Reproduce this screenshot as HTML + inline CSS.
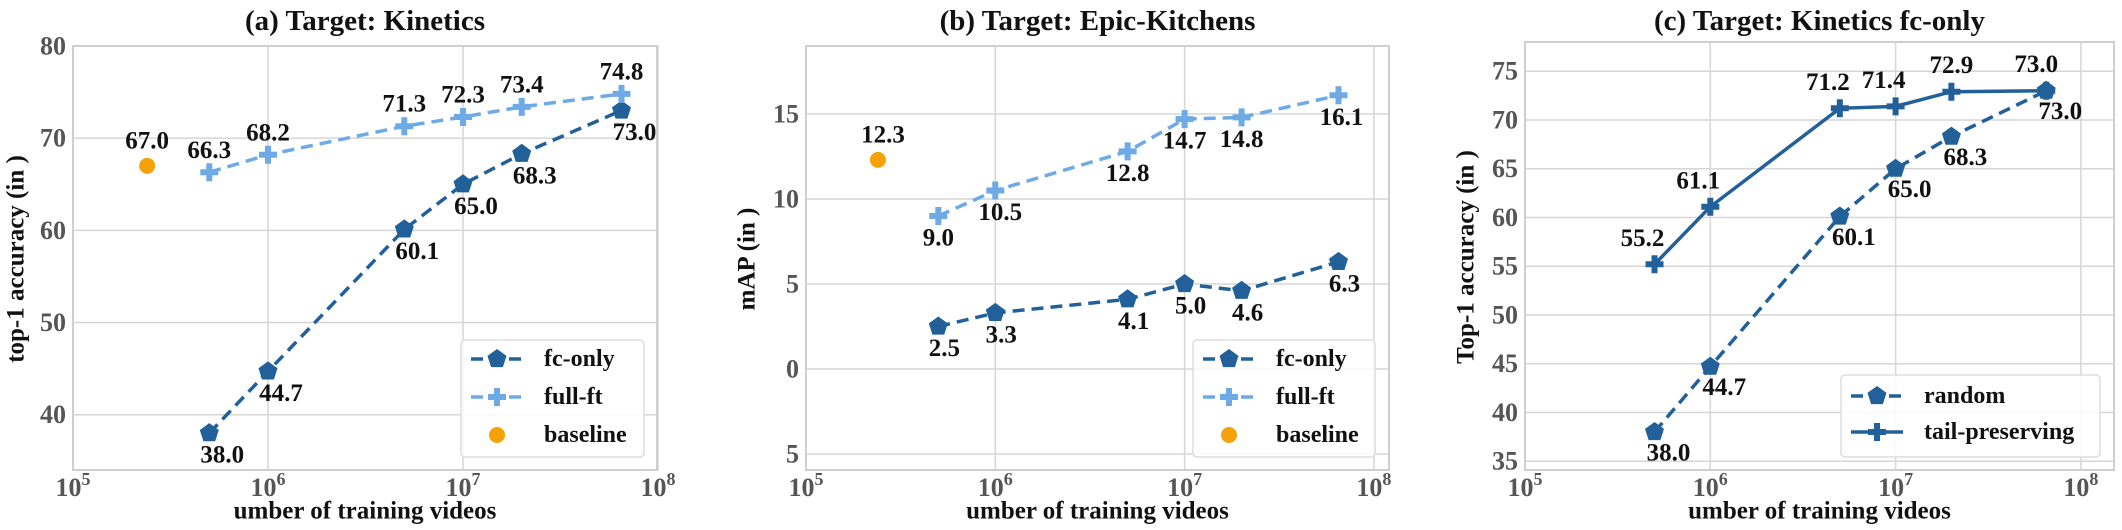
<!DOCTYPE html>
<html><head><meta charset="utf-8">
<style>
html,body{margin:0;padding:0;background:#fff;}
svg text{font-family:"Liberation Serif",serif;font-weight:bold;}
</style></head>
<body>
<svg id="c" width="2122" height="525" viewBox="0 0 2122 525" xmlns="http://www.w3.org/2000/svg"></svg>
<script>
// ---- data ----
const xA = [5e5, 1e6, 5e6, 1e7, 2e7, 6.5e7];
const aFc = [38.0, 44.7, 60.1, 65.0, 68.3, 73.0];
const aFull = [66.3, 68.2, 71.3, 72.3, 73.4, 74.8];
const aBaseX = [2.4e5];
const aBase = [67.0];
const bFc = [2.5, 3.3, 4.1, 5.0, 4.6, 6.3];
const bFull = [9.0, 10.5, 12.8, 14.7, 14.8, 16.1];
const bBase = [12.3];
const cRandom = [38.0, 44.7, 60.1, 65.0, 68.3, 73.0];
const cTail = [55.2, 61.1, 71.2, 71.4, 72.9, 73.0];
const aTicks = [40, 50, 60, 70, 80];
const bTicks = [-5, 0, 5, 10, 15];
const bTickLabels = ["5", "0", "5", "10", "15"];
const cTicks = [35, 40, 45, 50, 55, 60, 65, 70, 75];
const xDecades = [5, 6, 7, 8];

const DARK = "#22609a", LIGHT = "#6eaae6", ORANGE = "#f5a20a";
const FT = 26, FL = 25, FA = 25, FG = 24;
const svg = document.getElementById('c');
const NS = "http://www.w3.org/2000/svg";
function mk(tag, attrs, parent) {
  const e = document.createElementNS(NS, tag);
  for (const k in attrs) e.setAttribute(k, attrs[k]);
  (parent || svg).appendChild(e);
  return e;
}
function txt(s, x, y, size, fill, anchor, parent) {
  const t = mk('text', {x: x, y: y, 'font-size': size, fill: fill, 'text-anchor': anchor || 'middle', 'dominant-baseline': 'central'}, parent);
  t.textContent = s;
  return t;
}
function pentagon(g, x, y, r, col) {
  let p = [];
  for (let i = 0; i < 5; i++) { const a = -Math.PI / 2 + i * 2 * Math.PI / 5; p.push((x + r * Math.cos(a)).toFixed(1) + ',' + (y + r * Math.sin(a)).toFixed(1)); }
  return mk('polygon', {points: p.join(' '), fill: col}, g);
}
function plus(g, x, y, r, w, col) {
  return mk('path', {d: `M${x - r},${y}H${x + r}M${x},${y - r}V${y + r}`, stroke: col, 'stroke-width': w, fill: 'none'}, g);
}

function panel(cfg) {
  const g = mk('g', {});
  
  
  const L = cfg.L, R = cfg.R, T = cfg.T, B = cfg.B;
  const xs = v => L + (Math.log10(v) - 5) * cfg.dec;
  const ys = v => B - (v - cfg.ymin) / (cfg.ymax - cfg.ymin) * (B - T);
  cfg.ticks.forEach((v, i) => {
    const gl = mk('line', {x1: L, x2: R, y1: ys(v), y2: ys(v), stroke: '#d6d6d6', 'stroke-width': 1.5}, g);
    
    
    const tl = txt(cfg.tickLabels ? cfg.tickLabels[i] : String(v), L - 7, ys(v), FT, '#555', 'end', g);
    
    
  });
  xDecades.forEach(d => {
    const x = L + (d - 5) * cfg.dec;
    const gl = mk('line', {x1: x, x2: x, y1: T, y2: B, stroke: '#d6d6d6', 'stroke-width': 1.5}, g);
    
    
    const t = mk('text', {x: x, y: 496, 'font-size': FT, fill: '#555', 'text-anchor': 'middle'}, g);
    
    
    const s1 = document.createElementNS(NS, 'tspan'); s1.textContent = '10'; t.appendChild(s1);
    const s2 = document.createElementNS(NS, 'tspan'); s2.setAttribute('dy', '-11'); s2.setAttribute('font-size', '18'); s2.textContent = String(d); t.appendChild(s2);
  });
  const fr = mk('rect', {x: L, y: T, width: R - L, height: B - T, fill: 'none', stroke: '#cfcfcf', 'stroke-width': 2}, g);
  
  
  const tt = txt(cfg.title, (L + R) / 2, 21, 29, '#111', 'middle', g);
  
  
  const xl = txt('umber of training videos', (L + R) / 2, 511, FA, '#111', 'middle', g);
  
  
  const yl = mk('text', {x: 0, y: 0, 'font-size': FA, fill: '#111', 'text-anchor': 'middle', 'dominant-baseline': 'central', transform: `translate(${cfg.ylx},${cfg.yly}) rotate(-90)`}, g);
  yl.textContent = cfg.ylabel;
  
  
  cfg.series.forEach(s => {
    const sg = mk('g', {}, g);
    
    
    const pts = s.x.map((xv, i) => [xs(xv), ys(s.y[i])]);
    if (s.line) {
      const pl = mk('polyline', {points: pts.map(p => p.join(',')).join(' '), fill: 'none', stroke: s.col, 'stroke-width': 3.5, 'stroke-dasharray': s.dash || 'none'}, sg);
      
      
    }
    pts.forEach((p, i) => {
      let m;
      if (s.marker === 'pent') m = pentagon(sg, p[0], p[1], 10, s.col);
      else if (s.marker === 'plus') m = plus(sg, p[0], p[1], 9, 6, s.col);
      else m = mk('circle', {cx: p[0], cy: p[1], r: 8, fill: s.col}, sg);
      
      
      const dx = (s.ldx && s.ldx[i] !== undefined) ? s.ldx[i] : s.dx;
      const dy = (s.ldy && s.ldy[i] !== undefined) ? s.ldy[i] : s.dy;
      const lb = txt(s.y[i].toFixed(1), p[0] + dx, p[1] + dy, FL, '#111', 'middle', sg);
      
      
    });
  });
  const lg = mk('g', {}, g);
  
  
  mk('rect', {x: cfg.lx, y: cfg.ly, width: cfg.lw, height: cfg.lh, rx: 4, fill: '#fff', 'fill-opacity': 0.85, stroke: '#ddd', 'stroke-width': 1.5}, lg);
  cfg.legend.forEach((e, i) => {
    const y = cfg.ly + cfg.lfirst + i * cfg.lstep;
    const x0 = cfg.lx + 10, x1 = cfg.lx + 62;
    const eg = mk('g', {}, lg);
    
    
    if (e.dash !== undefined) mk('line', {x1: x0, x2: x1, y1: y, y2: y, stroke: e.col, 'stroke-width': 3.5, 'stroke-dasharray': e.dash || 'none'}, eg);
    const cx = (x0 + x1) / 2;
    if (e.marker === 'pent') pentagon(eg, cx, y, 10, e.col);
    else if (e.marker === 'plus') plus(eg, cx, y, 9, 6, e.col);
    else mk('circle', {cx: cx, cy: y, r: 8, fill: e.col}, eg);
    txt(e.label, cfg.lx + 83, y, FG, '#111', 'start', eg);
  });
}

const D = '12,7';
panel({name: 'panel-a-kinetics', title: '(a) Target: Kinetics', L: 73, R: 657, T: 46, B: 470, dec: 195, ymin: 34, ymax: 80,
  ticks: aTicks, ylabel: 'top-1 accuracy (in       )', ylx: 16, yly: 259,
  series: [
    {name: 'fc-only-series', x: xA, y: aFc, col: DARK, marker: 'pent', line: true, dash: D, dx: 13, dy: 22, ldx: [, , , , , 13]},
    {name: 'full-ft-series', x: xA, y: aFull, col: LIGHT, marker: 'plus', line: true, dash: D, dx: 0, dy: -22},
    {name: 'baseline-point', x: aBaseX, y: aBase, col: ORANGE, marker: 'dot', line: false, dx: 0, dy: -25}],
  legend: [{label: 'fc-only', col: DARK, marker: 'pent', dash: D}, {label: 'full-ft', col: LIGHT, marker: 'plus', dash: D}, {label: 'baseline', col: ORANGE, marker: 'dot'}],
  lx: 461, ly: 340, lw: 183, lh: 117, lfirst: 19, lstep: 38});

panel({name: 'panel-b-epic-kitchens', title: '(b) Target: Epic-Kitchens', L: 806, R: 1389, T: 46, B: 470, dec: 189.3, ymin: -5.94, ymax: 19,
  ticks: bTicks, tickLabels: bTickLabels, ylabel: 'mAP (in       )', ylx: 747, yly: 259,
  series: [
    {name: 'fc-only-series', x: xA, y: bFc, col: DARK, marker: 'pent', line: true, dash: D, dx: 6, dy: 22},
    {name: 'full-ft-series', x: xA, y: bFull, col: LIGHT, marker: 'plus', line: true, dash: D, dx: 0, dy: 22, ldx: [, 5, , , , 3]},
    {name: 'baseline-point', x: aBaseX, y: bBase, col: ORANGE, marker: 'dot', line: false, dx: 5, dy: -25}],
  legend: [{label: 'fc-only', col: DARK, marker: 'pent', dash: D}, {label: 'full-ft', col: LIGHT, marker: 'plus', dash: D}, {label: 'baseline', col: ORANGE, marker: 'dot'}],
  lx: 1193, ly: 340, lw: 182, lh: 117, lfirst: 19, lstep: 38});

panel({name: 'panel-c-fc-only', title: '(c) Target: Kinetics  fc-only', L: 1525, R: 2114, T: 42, B: 470, dec: 185.3, ymin: 34.1, ymax: 78,
  ticks: cTicks, ylabel: 'Top-1 accuracy (in       )', ylx: 1466, yly: 257,
  series: [
    {name: 'random-series', x: xA, y: cRandom, col: DARK, marker: 'pent', line: true, dash: D, dx: 14, dy: 21},
    {name: 'tail-preserving-series', x: xA, y: cTail, col: DARK, marker: 'plus', line: true, dash: null, dx: -12, dy: -26, ldx: [-12, -12, -12, -12, 0, -10]},
    ],
  legend: [{label: 'random', col: DARK, marker: 'pent', dash: D}, {label: 'tail-preserving', col: DARK, marker: 'plus', dash: null}],
  lx: 1841, ly: 375, lw: 259, lh: 82, lfirst: 21, lstep: 36});
</script>
</body></html>
